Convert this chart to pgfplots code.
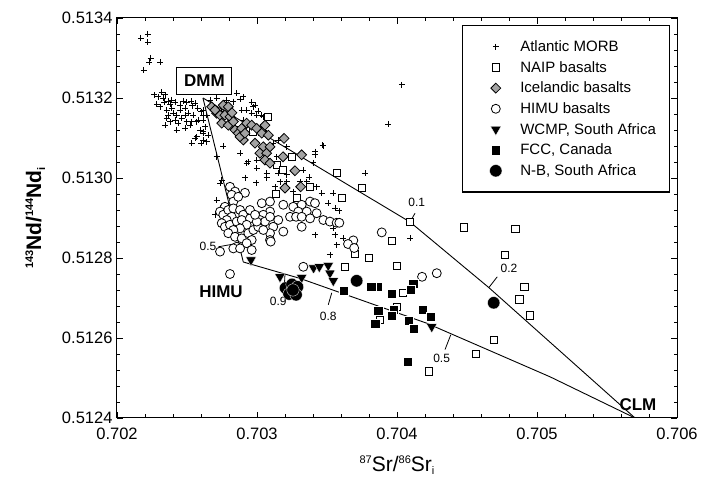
\documentclass[border=0pt]{standalone}
\usepackage{fontspec}
\setmainfont{Liberation Sans}
\usepackage{pgfplots}
\pgfplotsset{compat=1.18}
\newcommand\sups[1]{\raisebox{0.72ex}{\fontsize{11}{11}\selectfont #1}}
\newcommand\subs[1]{\raisebox{-0.35ex}{\fontsize{11}{11}\selectfont #1}}
\pgfplotsset{
  pt/.style={only marks,
    legend image code/.code={
      \path[draw=none, fill=none] (-21pt,-5pt) rectangle (10pt,5pt);
      \draw[##1] plot coordinates {(0pt,0pt)};}},
  mix/.style={black, line width=0.9pt, no markers, forget plot},
}
\begin{document}
\begin{tikzpicture}
\begin{axis}[
  scale only axis, width=560pt, height=400pt,
  xmin=0.702, xmax=0.706, ymin=0.5124, ymax=0.5134,
  xtick={0.702,0.703,0.704,0.705,0.706},
  ytick={0.5124,0.5126,0.5128,0.513,0.5132,0.5134},
  minor x tick num=4, minor y tick num=4,
  scaled ticks=false,
  tick align=inside,
  major tick length=6pt, minor tick length=3.5pt,
  every tick/.style={black, line width=0.8pt},
  axis line style={line width=1pt},
  /pgf/number format/assume math mode=true,
  tick label style={font=\fontsize{16.5}{18}\selectfont},
  x tick label style={/pgf/number format/fixed, /pgf/number format/precision=3,
    /pgf/number format/fixed zerofill, yshift=-6pt},
  y tick label style={/pgf/number format/fixed, /pgf/number format/precision=4,
    /pgf/number format/fixed zerofill, xshift=-1pt},
  xlabel={\sups{87}Sr/\sups{86}Sr\subs{i}},
  ylabel={\bfseries\sups{143}Nd/\sups{144}Nd\subs{i}},
  xlabel style={font=\fontsize{21}{24}\selectfont, at={(axis description cs:0.5,-0.118)}, anchor=center},
  ylabel style={font=\fontsize{21}{24}\selectfont, at={(axis description cs:-0.146,0.5)}, anchor=center, rotate=0},
  legend style={
    at={(1,1)}, anchor=north east, xshift=-7pt, yshift=-7pt,
    draw=black, line width=1.2pt, fill=white,
    font=\fontsize{15}{18}\selectfont,
    inner xsep=12pt, inner ysep=13.5pt,
    row sep=5.3pt,
    nodes={inner sep=1.5pt},
    /tikz/every odd column/.append style={column sep=13pt},
  },
  legend cell align=left,
]
% mixing curves
\addplot[mix] coordinates {(0.702614,0.513200) (0.704093,0.512890) (0.704656,0.512726) (0.705700,0.512400)};
\addplot[mix] coordinates {(0.702614,0.513200) (0.702902,0.512790)};
\addplot[mix] coordinates {(0.702902,0.512790) (0.703307,0.512749) (0.704212,0.512637) (0.705093,0.512503) (0.705700,0.512400)};

% Atlantic MORB
\addplot[pt, mark=+, mark size=3pt, black, line width=0.7pt] coordinates {
(0.702170,0.513350) (0.702220,0.513360) (0.702220,0.513340) (0.702240,0.513300)
(0.702310,0.513290) (0.702230,0.513290) (0.702190,0.513270)
(0.702295,0.513203) (0.702319,0.513214) (0.702284,0.513184) (0.702338,0.513189)
(0.702366,0.513192) (0.702379,0.513184) (0.702391,0.513174) (0.702355,0.513170)
(0.702402,0.513162) (0.702366,0.513157) (0.702426,0.513157) (0.702414,0.513145)
(0.702438,0.513137) (0.702355,0.513149) (0.702462,0.513149) (0.702486,0.513157)
(0.702509,0.513162) (0.702474,0.513192) (0.702498,0.513189) (0.702529,0.513192)
(0.702538,0.513181) (0.702534,0.513141) (0.702426,0.513120) (0.702557,0.513187)
(0.702576,0.513174) (0.702600,0.513166) (0.702616,0.513157) (0.702616,0.513145)
(0.702629,0.513128) (0.702557,0.513099) (0.702616,0.513095) (0.702593,0.513120)
(0.702521,0.513132) (0.702486,0.513124) (0.702450,0.513182) (0.702391,0.513195)
(0.702331,0.513199) (0.702307,0.513178)
(0.702266,0.513208) (0.702343,0.513208) (0.702414,0.513189) (0.702450,0.513170)
(0.702486,0.513174) (0.702343,0.513132) (0.702379,0.513141) (0.702545,0.513157)
(0.702498,0.513141) (0.702569,0.513141) (0.702616,0.513116) (0.702652,0.513107)
(0.702641,0.513091) (0.702534,0.513087) (0.702600,0.513087)
(0.702664,0.513195) (0.702712,0.513199) (0.702784,0.513195) (0.702831,0.513191)
(0.702879,0.513197) (0.702748,0.513166) (0.702616,0.513170) (0.702581,0.513145)
(0.702641,0.513157) (0.702926,0.513170) (0.702974,0.513178) (0.702962,0.513162)
(0.702998,0.513157) (0.703045,0.513153) (0.702902,0.513145) (0.702879,0.513128)
(0.703021,0.513128) (0.703069,0.513112) (0.702866,0.513103) (0.702759,0.513080)
(0.702879,0.513062) (0.702926,0.513037) (0.702998,0.513045) (0.703141,0.513053)
(0.703212,0.513078) (0.703069,0.513070) (0.703116,0.513033) (0.702712,0.513053)
(0.702569,0.513103) (0.702616,0.513112) (0.703474,0.513081) (0.703414,0.513058)
(0.703402,0.513038) (0.703331,0.513020) (0.703212,0.513008) (0.703069,0.513012)
(0.702998,0.513024) (0.703307,0.512991) (0.703426,0.512978) (0.703545,0.512962)
(0.703212,0.512991) (0.703129,0.512978)
(0.702855,0.513212) (0.702902,0.513203) (0.702962,0.513189) (0.702986,0.513182)
(0.702891,0.513170) (0.703009,0.513167) (0.703034,0.513157) (0.703152,0.513095)
(0.703116,0.513087)
(0.702938,0.513041) (0.702914,0.513001) (0.702993,0.512988) (0.703069,0.513001)
(0.703152,0.513012) (0.703164,0.512991) (0.703355,0.512991) (0.703259,0.512966)
(0.703462,0.512962) (0.703509,0.512937) (0.703557,0.512924) (0.703545,0.512874)
(0.703557,0.512858) (0.703569,0.512833) (0.703414,0.512858) (0.703521,0.512808)
(0.702748,0.512995) (0.702736,0.512987) (0.702712,0.512945) (0.702736,0.512924)
(0.702700,0.512908) (0.702807,0.512974)
(0.703588,0.512918) (0.703616,0.512849) (0.704093,0.512849) (0.703771,0.513012)
(0.704034,0.513233) (0.703938,0.513135) (0.703469,0.513082) (0.703414,0.513066)
(0.703374,0.513002)
};
\addlegendentry{Atlantic MORB}

% NAIP basalts
\addplot[pt, mark=square*, mark size=3.6pt, mark options={draw=black, fill=white, line width=1pt}] coordinates {
(0.703081,0.513152) (0.702974,0.513116) (0.703038,0.513116) (0.703248,0.513053)
(0.703141,0.513033) (0.703184,0.513020) (0.703574,0.513013) (0.703748,0.512975)
(0.703379,0.512978) (0.703136,0.512960) (0.703288,0.512949) (0.703609,0.512949)
(0.704093,0.512890) (0.704479,0.512876) (0.704846,0.512872) (0.703962,0.512843)
(0.704774,0.512808) (0.703700,0.512810) (0.703802,0.512800) (0.703629,0.512778)
(0.703998,0.512779) (0.704911,0.512727) (0.704875,0.512696) (0.704948,0.512656)
(0.704690,0.512595) (0.704566,0.512559) (0.704229,0.512516) (0.704045,0.512713)
(0.703998,0.512678) (0.703879,0.512645)
};
\addlegendentry{NAIP basalts}

% Icelandic basalts
\addplot[pt, mark=square*, mark size=3.5pt, mark options={rotate=45, draw=black, fill=black!36, line width=0.8pt}] coordinates {
(0.702676,0.513178) (0.702712,0.513162) (0.702759,0.513182) (0.702795,0.513178)
(0.702736,0.513157) (0.702771,0.513157) (0.702807,0.513153) (0.702748,0.513137)
(0.702795,0.513132) (0.702831,0.513141) (0.702843,0.513120) (0.702866,0.513112)
(0.702891,0.513124) (0.702926,0.513137) (0.702962,0.513132) (0.702998,0.513124)
(0.703057,0.513132) (0.703034,0.513112) (0.703081,0.513107) (0.702902,0.513095)
(0.702986,0.513087) (0.703045,0.513078) (0.703021,0.513062) (0.703069,0.513062)
(0.703057,0.513045) (0.703093,0.513037) (0.703193,0.513099) (0.703093,0.513078)
(0.703186,0.513053) (0.703319,0.513058) (0.703271,0.513018) (0.703200,0.512975)
(0.703312,0.512978) (0.702879,0.513103) (0.702914,0.513112) (0.702700,0.513170)
(0.702821,0.513163)
};
\addlegendentry{Icelandic basalts}

% HIMU basalts
\addplot[pt, mark=*, mark size=4.5pt, mark options={draw=black, fill=white, line width=0.8pt}] coordinates {
(0.702807,0.512978) (0.702843,0.512966) (0.702914,0.512963) (0.702819,0.512958)
(0.702831,0.512941) (0.702866,0.512953) (0.702771,0.512928) (0.702736,0.512916)
(0.702759,0.512908) (0.702795,0.512920) (0.702831,0.512924) (0.702879,0.512920)
(0.702902,0.512908) (0.702819,0.512903) (0.702784,0.512895) (0.702748,0.512887)
(0.702771,0.512878) (0.702807,0.512883) (0.702855,0.512891) (0.702891,0.512895)
(0.702950,0.512899) (0.702926,0.512883) (0.702879,0.512874) (0.702831,0.512870)
(0.702795,0.512862) (0.702843,0.512853) (0.702891,0.512849) (0.702938,0.512862)
(0.702974,0.512870) (0.703009,0.512878) (0.702962,0.512845) (0.702926,0.512837)
(0.702855,0.512828) (0.702831,0.512824) (0.702879,0.512824) (0.702962,0.512820)
(0.702736,0.512816) (0.702807,0.512760) (0.703034,0.512937) (0.703093,0.512941)
(0.703188,0.512933) (0.703259,0.512928) (0.703319,0.512933) (0.703379,0.512941)
(0.703414,0.512937) (0.703295,0.512916) (0.703355,0.512916) (0.703426,0.512912)
(0.703093,0.512916) (0.703045,0.512908) (0.703021,0.512895) (0.703057,0.512891)
(0.703093,0.512903) (0.703152,0.512895) (0.703116,0.512878) (0.703093,0.512862)
(0.703093,0.512845) (0.703188,0.512866) (0.703236,0.512903) (0.703279,0.512903)
(0.703319,0.512903) (0.703379,0.512899) (0.703319,0.512878) (0.703474,0.512895)
(0.703521,0.512891) (0.703569,0.512888) (0.703045,0.512870) (0.702998,0.512891)
(0.702950,0.512920) (0.702986,0.512908) (0.703588,0.512888) (0.703891,0.512864)
(0.703688,0.512844) (0.703650,0.512835) (0.703694,0.512825) (0.703331,0.512778)
(0.704179,0.512753) (0.704284,0.512762) (0.703098,0.512841)
};
\addlegendentry{HIMU basalts}

% WCMP, South Africa
\addplot[pt, mark=triangle*, mark size=6pt, mark options={rotate=180, draw=white, fill=black, line width=0.3pt}] coordinates {
(0.702957,0.512795) (0.703164,0.512753) (0.703319,0.512751) (0.703404,0.512775)
(0.703445,0.512778) (0.703509,0.512781) (0.703521,0.512762) (0.703545,0.512743)
(0.704248,0.512628)
};
\addlegendentry{WCMP, South Africa}

% FCC, Canada
\addplot[pt, mark=square*, mark size=4.6pt, mark options={draw=white, fill=black, line width=0.3pt}] coordinates {
(0.703864,0.512728) (0.703619,0.512719) (0.703816,0.512728) (0.703962,0.512711)
(0.704116,0.512735) (0.704095,0.512720) (0.703866,0.512669) (0.703976,0.512670)
(0.703844,0.512636) (0.703959,0.512656) (0.704081,0.512644) (0.704120,0.512623)
(0.704184,0.512671) (0.704241,0.512653) (0.704075,0.512540)
};
\addlegendentry{FCC, Canada}

% N-B, South Africa
\addplot[pt, mark=*, mark size=6.2pt, mark options={draw=white, fill=black, line width=0.3pt}] coordinates {
(0.703204,0.512725) (0.703250,0.512734) (0.703289,0.512728) (0.703229,0.512710)
(0.703279,0.512708) (0.703257,0.512720) (0.703712,0.512743) (0.704691,0.512688)
};
\addlegendentry{N-B, South Africa}

% fraction ticks and labels
\draw[line width=0.8pt] (axis cs:0.704129,0.512912) -- (axis cs:0.704093,0.512890);
\draw[line width=0.8pt] (axis cs:0.704716,0.512753) -- (axis cs:0.704656,0.512726);
\draw[line width=0.8pt] (axis cs:0.702724,0.512828) -- (axis cs:0.702866,0.512837);
\draw[line width=0.8pt] (axis cs:0.703193,0.512715) -- (axis cs:0.703200,0.512760);
\draw[line width=0.8pt] (axis cs:0.703509,0.512683) -- (axis cs:0.703534,0.512713);
\draw[line width=0.8pt] (axis cs:0.704343,0.512571) -- (axis cs:0.704384,0.512608);
\begin{scope}[every node/.style={font=\fontsize{12}{12}\selectfont, inner sep=0pt}]
\node at (axis cs:0.704141,0.512938) {0.1};
\node at (axis cs:0.704800,0.512775) {0.2};
\node at (axis cs:0.702650,0.512830) {0.5};
\node at (axis cs:0.703152,0.512691) {0.9};
\node at (axis cs:0.703509,0.512655) {0.8};
\node at (axis cs:0.704319,0.512550) {0.5};
\end{scope}
\node[draw, line width=1pt, fill=white, minimum width=55pt, minimum height=27pt, inner sep=0pt,
  font=\bfseries\fontsize{17}{17}\selectfont] at (axis cs:0.702625,0.513243) {DMM};
\node[font=\bfseries\fontsize{17}{17}\selectfont] at (axis cs:0.702743,0.512715) {HIMU};
\node[font=\bfseries\fontsize{17}{17}\selectfont] at (axis cs:0.705721,0.512434) {CLM};
\end{axis}
\pgfresetboundingbox
\useasboundingbox ([shift={(-117pt,-66pt)}]current axis.south west) rectangle ([shift={(25pt,18pt)}]current axis.north east);
\end{tikzpicture}
\end{document}
